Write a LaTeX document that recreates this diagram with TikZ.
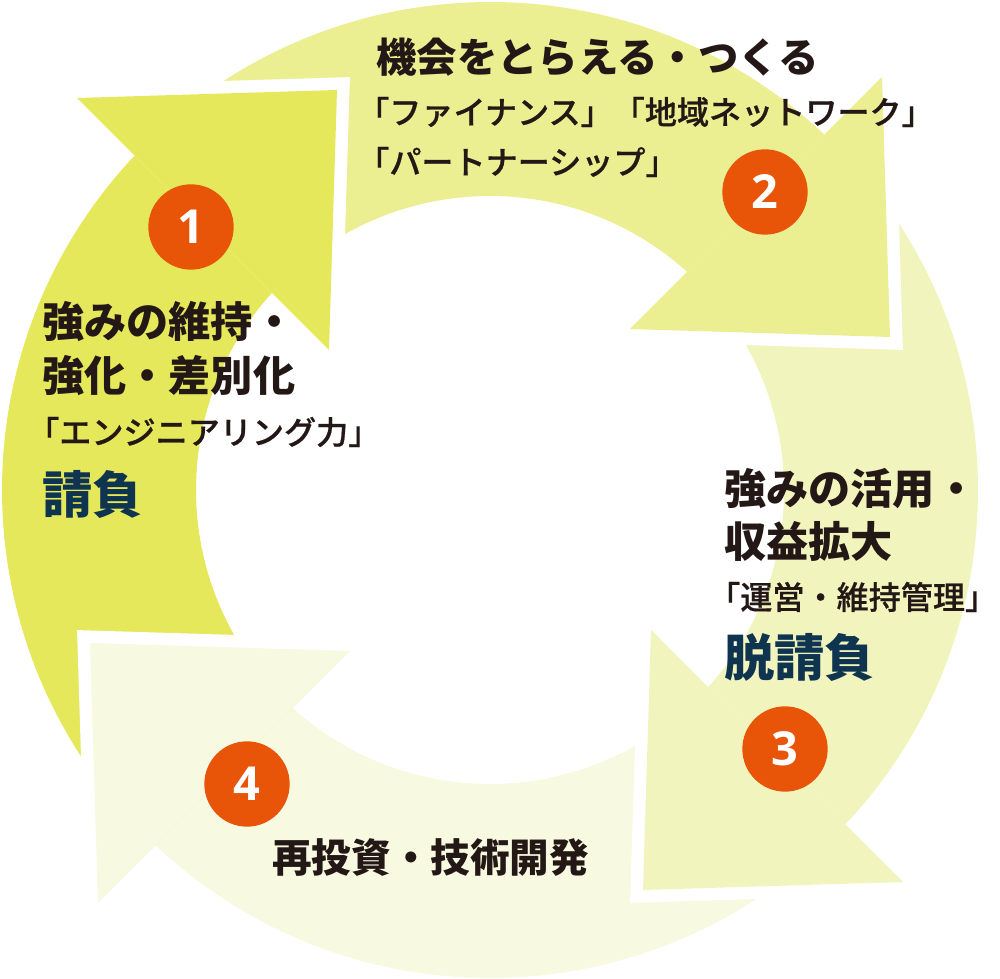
\documentclass[tikz,border=0pt]{standalone}
\usepackage{fontspec}
\newfontfamily\jpfont{Noto Sans CJK JP}
\newfontfamily\jpmid{Noto Sans CJK JP Medium}[FakeBold=0.6]
\newfontfamily\numfont{Open Sans}
\usetikzlibrary{positioning}
\definecolor{arrowone}{HTML}{E4E85A}
\definecolor{arrowtwo}{HTML}{ECEE92}
\definecolor{arrowthree}{HTML}{F2F4BE}
\definecolor{arrowfour}{HTML}{F7F9E1}
\definecolor{stepred}{HTML}{E85408}
\definecolor{ink}{HTML}{231815}
\definecolor{navy}{HTML}{0F3450}

\begin{document}
\begin{tikzpicture}[x=0.03cm, y=0.03cm,
  stepnum/.style={circle, fill=stepred, text=white, inner sep=0pt,
    minimum size=2.56cm, font=\numfont\bfseries\fontsize{40}{40}\selectfont},
  toptext/.style={anchor=west, inner sep=0pt, text=ink,
    font=\jpfont\bfseries\fontsize{34.5}{34.5}\selectfont},
  sidetext/.style={anchor=west, inner sep=0pt, text=ink,
    font=\jpfont\bfseries\fontsize{36}{36}\selectfont},
  subtext/.style={anchor=west, inner sep=0pt, text=ink,
    font=\jpmid\fontsize{27.4}{27.4}\selectfont},
  keytext/.style={anchor=west, inner sep=0pt, text=navy,
    font=\jpfont\bfseries\fontsize{43}{43}\selectfont}]
\useasboundingbox (0,0) rectangle (1000,979);

% ring of four arrows
\begin{scope}[shift={(490,489)}]
\foreach \k/\col in {0/arrowone,1/arrowtwo,2/arrowthree,3/arrowfour}
  \fill[\col, rotate=-90*\k] (226.75:488) arc[start angle=226.75, end angle=136.75, radius=488]
    -- (137.9:294) arc[start angle=137.9, end angle=227.9, radius=294] -- cycle;
\foreach \k/\col in {0/arrowone,1/arrowtwo,2/arrowthree,3/arrowfour}{
  \draw[white, line width=0.75cm, rotate=-90*\k] (-413,392) -- (-153,400) -- (-161,140);
  \fill[\col, rotate=-90*\k] (-413,392) -- (-153,400) -- (-161,140) -- cycle;
}
\end{scope}

\node[stepnum] (one)   at (191,752) {1};
\node[stepnum] (two)   at (765,787) {2};
\node[stepnum] (three) at (785,230) {3};
\node[stepnum] (four)  at (247,195) {4};

\node[toptext] (chance)   at (376,922) {機会をとらえる・つくる};
\node[subtext] (chanceA)  at (357,867) {「ファイナンス」「地域ネットワーク」};
\node[subtext] (chanceB)  at (357,817) {「パートナーシップ」};

\node[sidetext] (keepA)   at (42,657) {強みの維持・};
\node[sidetext] (keepB)   at (42,603) {強化・差別化};
\node[subtext]  (keepC)   at (27,547) {「エンジニアリング力」};
\node[keytext]  (keepkey) at (42,485) {請負};

\node[sidetext] (useA)    at (724,490) {強みの活用・};
\node[sidetext] (useB)    at (724,438) {収益拡大};
\node[subtext]  (useC)    at (708,382) {「運営・維持管理」};
\node[keytext]  (usekey)  at (724,322) {脱請負};

\node[toptext] (reinvest) at (272,121) {\fontsize{33.8}{33.8}\selectfont 再投資・技術開発};
\end{tikzpicture}
\end{document}
